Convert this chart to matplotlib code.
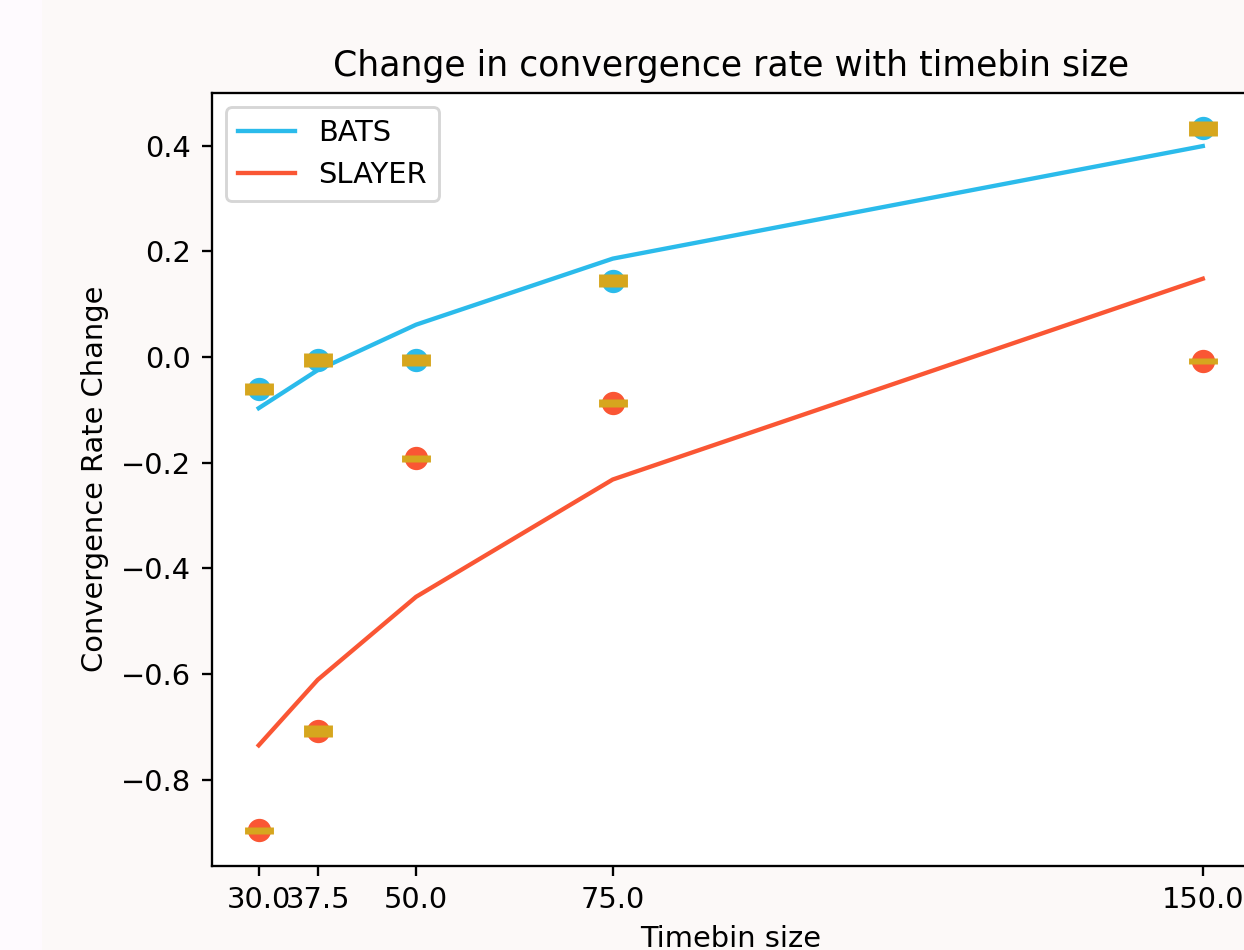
#!/usr/bin/env python3

"""Convergence rate change vs timebin size for BATS and SLAYER."""

import matplotlib
matplotlib.use("Agg")
import matplotlib.pyplot as plt
from matplotlib.patches import Rectangle

timebins = [30.0, 37.5, 50.0, 75.0, 150.0]

# fitted trend lines
bats_fit = [-0.097, -0.025, 0.061, 0.186, 0.399]
slayer_fit = [-0.735, -0.611, -0.454, -0.232, 0.148]

# measured points and their spread
bats_mean = [-0.061, -0.006, -0.006, 0.144, 0.433]
bats_err = [0.012, 0.013, 0.012, 0.012, 0.014]
slayer_mean = [-0.896, -0.708, -0.192, -0.087, -0.008]
slayer_err = [0.006, 0.012, 0.006, 0.008, 0.006]

BLUE = "#2bbbeb"
RED = "#fa5634"
ERR = "#d6a61e"

DPI = 208
fig = plt.figure(figsize=(1244 / DPI, 950 / DPI), dpi=DPI, facecolor="#fcf9f8")
fig.patches.append(Rectangle((0, 0), 42 / 1244, 1, transform=fig.transFigure,
                             facecolor="#fefafe", edgecolor="none", zorder=-1))

ax = fig.add_axes([211.5 / 1244, 84.5 / 950, (1250 - 211.5) / 1244, (865.5 - 93) / 950])
ax.set_facecolor("white")

ax.plot(timebins, bats_fit, color=BLUE, label="BATS")
ax.plot(timebins, slayer_fit, color=RED, label="SLAYER")
ax.scatter(timebins, bats_mean, color=BLUE, s=50)
ax.scatter(timebins, slayer_mean, color=RED, s=50)
ax.errorbar(timebins, bats_mean, yerr=bats_err, fmt="none", ecolor=ERR, elinewidth=10)
ax.errorbar(timebins, slayer_mean, yerr=slayer_err, fmt="none", ecolor=ERR, elinewidth=10)

ax.set_xticks(timebins)
ax.set_xticklabels([str(t) for t in timebins])
# limits follow the point means only (5% margin), not the error spread
lo, hi = min(slayer_mean), max(bats_mean)
pad = 0.05 * (hi - lo)
ax.set_ylim(lo - pad, hi + pad)
ax.set_title("Change in convergence rate with timebin size")
ax.set_xlabel("Timebin size")
ax.set_ylabel("Convergence Rate Change")
ax.legend(loc="upper left")

fig.savefig("out.png", dpi=DPI, facecolor=fig.get_facecolor())
